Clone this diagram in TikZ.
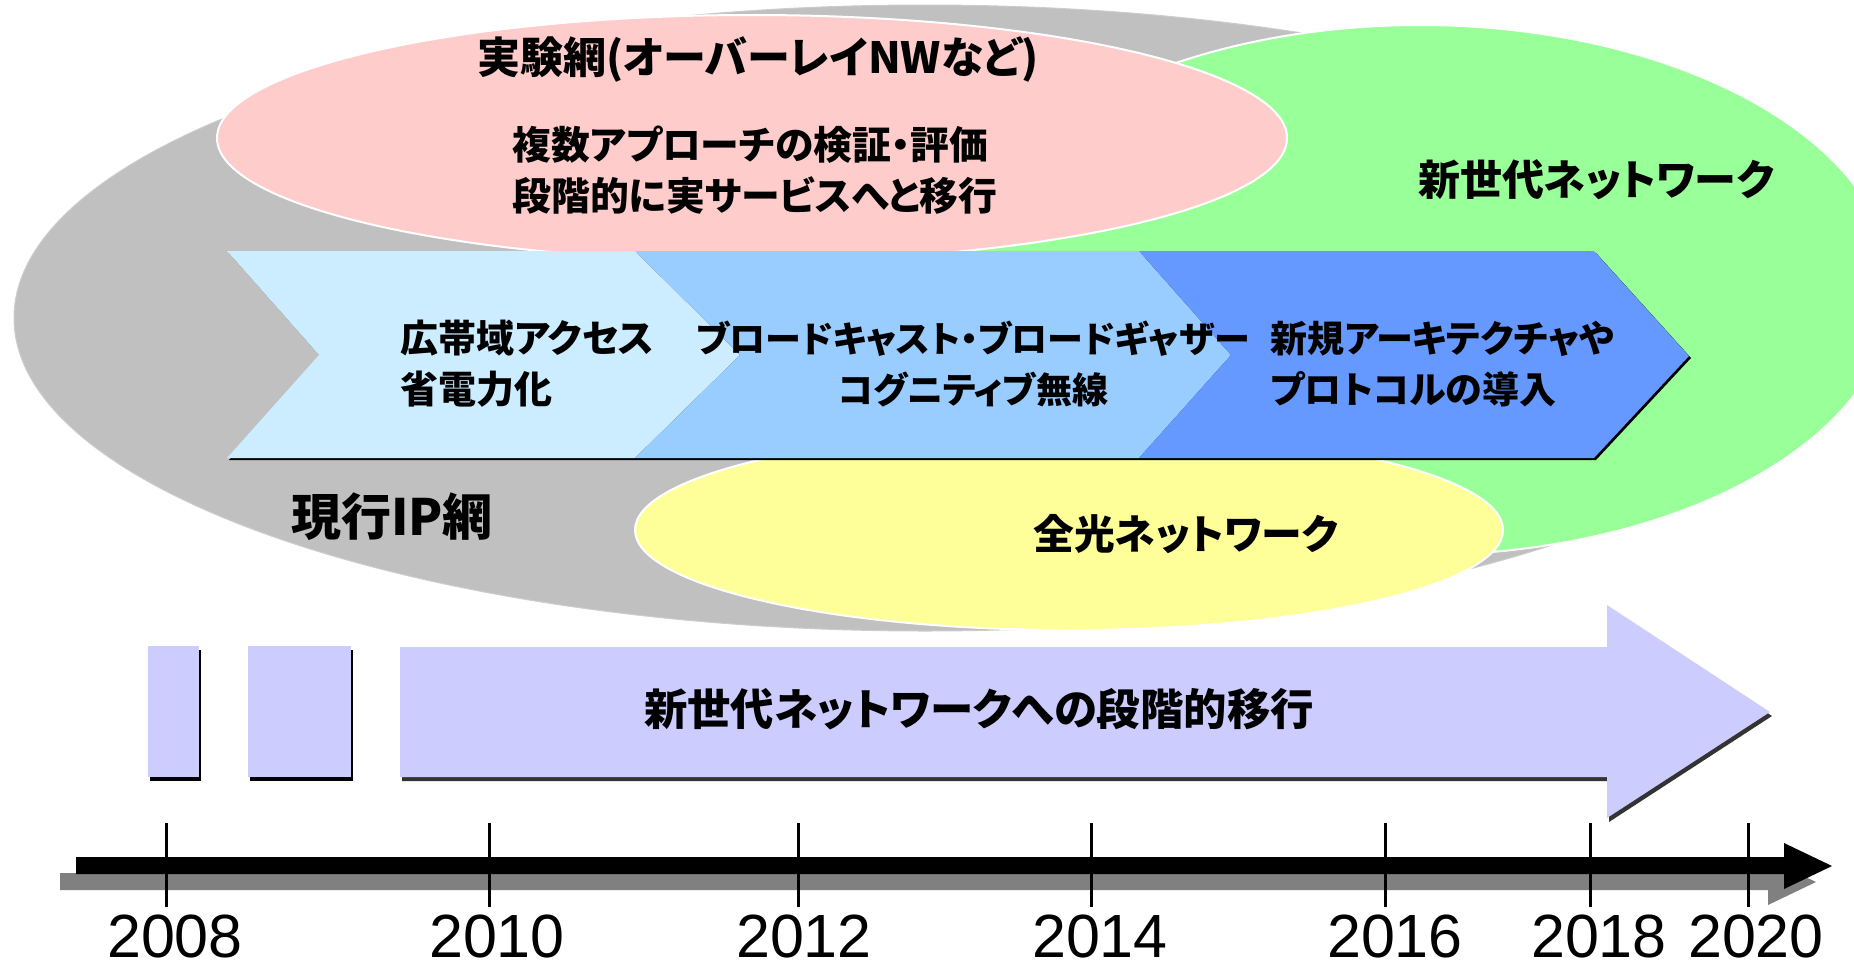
\documentclass[tikz,border=0pt]{standalone}
\usepackage{fontspec}
\setmainfont{Liberation Sans}
\newfontfamily\jp{Noto Sans CJK JP}[RawFeature=+palt]
\usetikzlibrary{shapes.geometric}
\definecolor{cgray}{HTML}{C0C0C0}
\definecolor{cgreen}{HTML}{99FF99}
\definecolor{cpink}{HTML}{FFCCCC}
\definecolor{cyellow}{HTML}{FFFF99}
\definecolor{cbone}{HTML}{CCECFF}
\definecolor{cbtwo}{HTML}{99CCFF}
\definecolor{cbthree}{HTML}{6699FF}
\definecolor{clav}{HTML}{CCCCFF}
\definecolor{cshade}{HTML}{808080}
\begin{document}
\begin{tikzpicture}[x=0.5pt,y=-0.5pt,
  blob/.style={ellipse, inner sep=0pt, outer sep=0pt},
  jt/.style={inner sep=0pt, font={\jp\bfseries\fontsize{#1}{25.5pt}\selectfont}},
  yr/.style={inner sep=0pt, font={\fontsize{30.5pt}{34pt}\selectfont}},
  tick/.style={line width=1.5pt, black},
  lav/.style={fill=clav},
  shadowfill/.style={fill=black}
]
\useasboundingbox (0,0) rectangle (1854,970);
\clip (0,0) rectangle (1854,970);

% ellipses
\node[blob, fill=cgray, draw=cgray!80!white, line width=0.5pt, minimum width=911pt, minimum height=313pt] (ipnet) at (925,318) {};
\node[blob, fill=cgreen, draw=white, line width=1pt, minimum width=473pt, minimum height=265pt] (newnet) at (1420,290) {};
\node[blob, fill=cpink, draw=white, line width=1pt, minimum width=535pt, minimum height=123pt] (testbed) at (752,138) {};
\node[blob, fill=cyellow, draw=white, line width=1pt, minimum width=434pt, minimum height=100pt] (optnet) at (1069,530) {};

% chevrons
\fill[black] ([xshift=1pt,yshift=-1pt]0,0) ++(227,251) -- ++(1367,0) -- ++(95,105) -- ++(-95,102) -- ++(-1367,0) -- ++(92,-103) -- cycle;
\fill[cbone] (227,251) -- (635,251) -- (740,355) -- (635,458) -- (227,458) -- (319,355) -- cycle;
\fill[cbtwo] (635,251) -- (1139,251) -- (1231,355) -- (1139,458) -- (635,458) -- (740,355) -- cycle;
\fill[cbthree] (1139,251) -- (1594,251) -- (1689,356) -- (1594,458) -- (1139,458) -- (1231,355) -- cycle;

% ellipse texts
\node[jt=21.5pt] (ttitle) at (758,59) {実験網(オーバーレイNWなど)};
\node[jt=19.4pt, align=left, anchor=west] (ttrial) at (512,170) {複数アプローチの検証・評価\\段階的に実サービスへと移行};
\node[jt=21pt] (tnew) at (1596,180) {新世代ネットワーク};
\node[jt=25pt] (tip) at (392,517) {現行IP網};
\node[jt=20.4pt] (topt) at (1186,534) {全光ネットワーク};

% chevron texts
\node[jt=19pt, align=left, anchor=west] (tacc) at (400,364) {広帯域アクセス\\省電力化};
\node[jt=18pt, align=center] (tbc) at (973,364) {ブロードキャスト・ブロードギャザー\\コグニティブ無線};
\node[jt=18.5pt, align=left, anchor=west] (tarch) at (1270,364) {新規アーキテクチャや\\プロトコルの導入};

% lavender blocks
\fill[shadowfill] (150,650) rectangle (201,781);
\fill[lav] (148,646) rectangle (199,777);
\fill[shadowfill] (250,650) rectangle (353,781);
\fill[lav] (248,646) rectangle (351,777);
\fill[black!80] (402,651) -- (1609,651) -- (1609,609) -- (1772,716) -- (1609,822) -- (1609,781) -- (402,781) -- cycle;
\fill[lav] (400,647) -- (1607,647) -- (1607,605) -- (1770,712) -- (1607,818) -- (1607,777) -- (400,777) -- cycle;
\node[jt=21.7pt] (tmig) at (979,709) {新世代ネットワークへの段階的移行};

% timeline
\fill[cshade] (60,873) -- (1768,873) -- (1768,859) -- (1816,882) -- (1768,905) -- (1768,890) -- (60,890) -- cycle;
\fill[black] (76,857) -- (1784,857) -- (1784,843) -- (1832,866) -- (1784,889) -- (1784,874) -- (76,874) -- cycle;
\foreach \x in {166,489,798,1091,1385,1590,1748} \draw[tick] (\x,823) -- (\x,907);

\node[yr] (y2008) at (175,936) {2008};
\node[yr] (y2010) at (497,936) {2010};
\node[yr] (y2012) at (804,936) {2012};
\node[yr] (y2014) at (1100,936) {2014};
\node[yr] (y2016) at (1395,936) {2016};
\node[yr] (y2018) at (1599,936) {2018};
\node[yr] (y2020) at (1756,936) {2020};
\end{tikzpicture}
\end{document}
